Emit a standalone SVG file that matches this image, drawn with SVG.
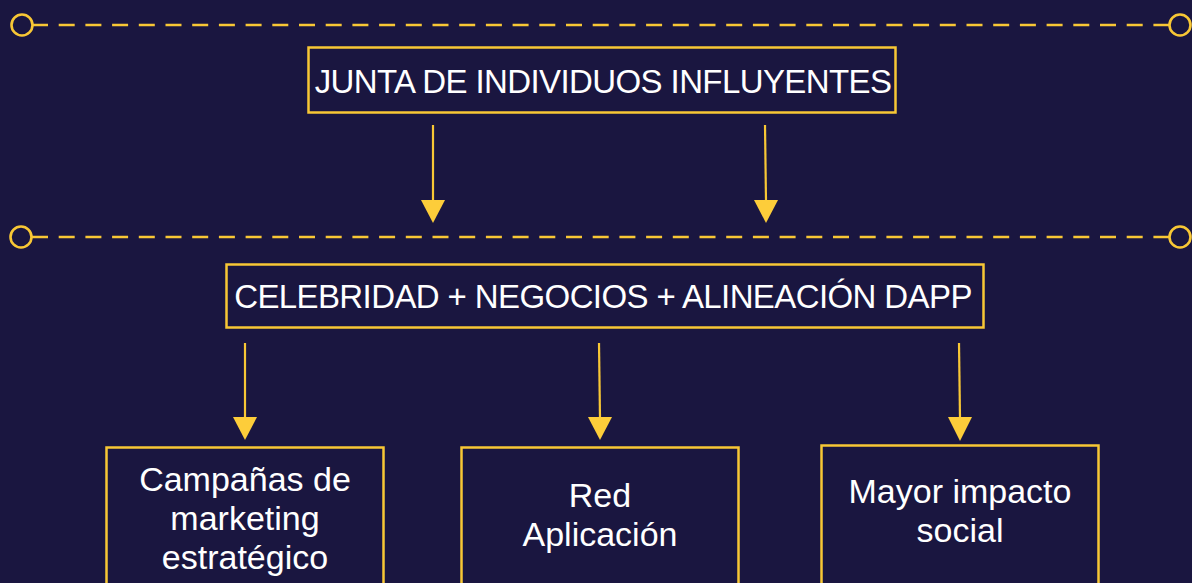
<svg xmlns="http://www.w3.org/2000/svg" width="1192" height="583" viewBox="0 0 1192 583">
<defs>
<style>
.bg{fill:#1a1640}
.dash{stroke:#f8c735;stroke-width:2.7;fill:none;stroke-dasharray:16 10.7}
.end{stroke:#f8c735;stroke-width:2.6;fill:none}
.box{fill:#1a1640;stroke:#f8c735;stroke-width:2.5}
.arr{stroke:#f8c735;stroke-width:2.2;fill:none}
.head{fill:#fdcd3a}
.t{font-family:"Liberation Sans",Arial,sans-serif;font-size:33px;fill:#ffffff;text-anchor:middle;letter-spacing:-0.6px}
.s{font-size:34px;letter-spacing:0}
</style>
</defs>
<rect class="bg" x="0" y="0" width="1192" height="583"/>
<g id="dividers">
<line class="dash" x1="32" y1="25" x2="1169" y2="25"/>
<circle class="end" cx="22" cy="25" r="10.5"/>
<circle class="end" cx="1180" cy="25" r="10.5"/>
<line class="dash" x1="32" y1="237" x2="1169" y2="237"/>
<circle class="end" cx="21" cy="237" r="10.5"/>
<circle class="end" cx="1180" cy="237" r="10.5"/>
</g>
<g id="connectors">
<line class="arr" x1="433" y1="125" x2="433" y2="202"/>
<polygon class="head" points="421,200 445,200 433,223"/>
<line class="arr" x1="765" y1="125" x2="766" y2="202"/>
<polygon class="head" points="754,200 778,200 766,223"/>
<line class="arr" x1="245" y1="343" x2="245" y2="419"/>
<polygon class="head" points="233,417 257,417 245,440"/>
<line class="arr" x1="599" y1="343" x2="600" y2="419"/>
<polygon class="head" points="588,417 612,417 600,440"/>
<line class="arr" x1="959" y1="343" x2="960" y2="419"/>
<polygon class="head" points="948,417 972,417 960,441"/>
</g>
<g id="junta">
<rect class="box" x="308.5" y="47.5" width="587" height="65"/>
<text class="t" x="603" y="93">JUNTA DE INDIVIDUOS INFLUYENTES</text>
</g>
<g id="alineacion">
<rect class="box" x="226.5" y="264.5" width="757" height="63"/>
<text class="t" x="603" y="308">CELEBRIDAD + NEGOCIOS + ALINEACIÓN DAPP</text>
</g>
<g id="campanas">
<rect class="box" x="106.5" y="447.5" width="277" height="150"/>
<text class="t s" x="245" y="491">Campañas de</text>
<text class="t s" x="245" y="530">marketing</text>
<text class="t s" x="245" y="569">estratégico</text>
</g>
<g id="red">
<rect class="box" x="461.5" y="447.5" width="277" height="150"/>
<text class="t s" x="600" y="507">Red</text>
<text class="t s" x="600" y="546">Aplicación</text>
</g>
<g id="impacto">
<rect class="box" x="821.5" y="445.5" width="277" height="150"/>
<text class="t s" x="960" y="503">Mayor impacto</text>
<text class="t s" x="960" y="542">social</text>
</g>
</svg>
